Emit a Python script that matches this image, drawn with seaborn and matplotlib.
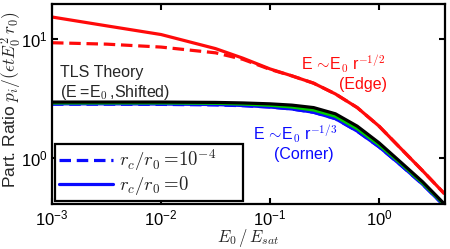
import numpy as np
import pandas as pd
import matplotlib
matplotlib.use("Agg")
import matplotlib.pyplot as plt
import seaborn as sns
from matplotlib.lines import Line2D
from matplotlib.ticker import NullLocator

# ---- data (log10 of E0/Esat) ----
log_e = [-3.0, -2.5, -2.0, -1.5, -1.25, -1.0, -0.8, -0.6, -0.4, -0.2, 0.0, 0.2, 0.4, 0.6]
edge_rc0 = [15.3, 12.9, 10.9, 8.3, 6.9, 5.6, 4.9, 4.25, 3.45, 2.65, 1.85, 1.2, 0.78, 0.50]
edge_rc4 = [9.3, 9.05, 8.55, 7.65, 6.75, 5.55, 4.9, 4.25, 3.45, 2.65, 1.85, 1.2, 0.78, 0.50]
tls = [2.95, 2.95, 2.95, 2.93, 2.90, 2.85, 2.78, 2.65, 2.35, 1.85, 1.34, 0.92, 0.63, 0.41]
mid = [2.90, 2.90, 2.90, 2.88, 2.84, 2.77, 2.68, 2.53, 2.24, 1.76, 1.29, 0.90, 0.615, 0.405]
corner_rc0 = [2.85, 2.85, 2.84, 2.81, 2.76, 2.68, 2.58, 2.42, 2.14, 1.68, 1.24, 0.87, 0.60, 0.395]
corner_rc4 = [2.83, 2.83, 2.82, 2.79, 2.75, 2.68, 2.58, 2.42, 2.14, 1.68, 1.24, 0.87, 0.60, 0.395]

x_ticks = [1e-3, 1e-2, 1e-1, 1e0]
y_ticks = [1e0, 1e1]
legend_labels = [r"$r_c/r_0=\!10^{-4}$", r"$r_c/r_0=\!0$"]

E = 10.0 ** np.array(log_e)
series = {
    "corner_rc0": corner_rc0,
    "corner_rc4": corner_rc4,
    "mid": mid,
    "tls": tls,
    "edge_rc4": edge_rc4,
    "edge_rc0": edge_rc0,
}
df = pd.concat(
    [pd.DataFrame({"E": E, "p": v, "series": k}) for k, v in series.items()],
    ignore_index=True,
)

sns.set_theme(style="ticks")
plt.rcParams["font.family"] = ["Liberation Sans", "DejaVu Sans"]
plt.rcParams["mathtext.fontset"] = "cm"

fig = plt.figure(figsize=(4.5, 2.49), dpi=100)
ax = fig.add_axes([52 / 450, 1 - 204 / 249, 393 / 450, 200 / 249])

RED = "#ff0a0a"
BLUE = "#0a0aff"
GREEN = "#00cc00"
lw = 2.3
styles = {
    "corner_rc0": dict(color=BLUE, dashes=False),
    "corner_rc4": dict(color=BLUE, dashes=True),
    "mid": dict(color=GREEN, dashes=False),
    "tls": dict(color="black", dashes=False),
    "edge_rc4": dict(color=RED, dashes=True),
    "edge_rc0": dict(color=RED, dashes=False),
}
for name in series:
    sub = df[df["series"] == name]
    st = styles[name]
    sns.lineplot(data=sub, x="E", y="p", ax=ax, color=st["color"],
                 linewidth=lw, legend=False, estimator=None, sort=True)
    ln = ax.get_lines()[-1]
    if st["dashes"]:
        ln.set_dashes((3.6, 1.8))
    ln.set_solid_capstyle("butt")

ax.set_xscale("log")
ax.set_yscale("log")
ax.set_xlim(1e-3, 10 ** 0.605)
ax.set_ylim(10 ** -0.387, 10 ** 1.294)
ax.set_xticks(x_ticks)
ax.set_yticks(y_ticks)
ax.xaxis.set_minor_locator(NullLocator())
ax.yaxis.set_minor_locator(NullLocator())
ax.tick_params(which="major", direction="in", length=4.5, width=1.5,
               top=True, right=True, labelsize=12, pad=3, colors="black")
for sp in ax.spines.values():
    sp.set_linewidth(1.6)
    sp.set_color("black")
    sp.set_visible(True)
ax.set_facecolor("white")

ax.set_xlabel(r"$E_0\,/\,E_{sat}$", fontsize=12, labelpad=-1)
ax.set_ylabel(r"Part. Ratio $p_i/(\epsilon t E_0^2\, r_0)$", fontsize=12.5, labelpad=0)
ax.yaxis.set_label_coords(-0.072, 0.52)

tr = ax.transAxes
def px(x, y):
    return ((x - 52) / 393, (204 - y) / 200)

ax.text(*px(60, 72), "TLS Theory", transform=tr, fontsize=11.5, va="center", ha="left")
ax.text(*px(60, 93), r"(E$\;$=E$_\mathsf{0}$$\,$,Shifted)", transform=tr, fontsize=11.5,
        va="center", ha="left")
ax.text(*px(385, 64), r"E$\,\sim\!$E$_\mathsf{0}$ r$^\mathsf{-1/2}$", transform=tr,
        fontsize=11.5, va="center", ha="right", color=RED)
ax.text(*px(387, 84), "(Edge)", transform=tr, fontsize=11.5, va="center", ha="right",
        color=RED)
ax.text(*px(337, 134), r"E$\,\sim\!$E$_\mathsf{0}$ r$^\mathsf{-1/3}$", transform=tr,
        fontsize=11.5, va="center", ha="right", color=BLUE)
ax.text(*px(334, 155), "(Corner)", transform=tr, fontsize=11.5, va="center", ha="right",
        color=BLUE)

handles = [
    Line2D([], [], color=BLUE, lw=lw, dashes=(3.6, 1.8)),
    Line2D([], [], color=BLUE, lw=lw),
]
leg = ax.legend(handles, legend_labels, loc="lower left",
                bbox_to_anchor=(3 / 393, 3 / 200, 188 / 393, 56 / 200), mode="expand",
                fontsize=13.5, frameon=True, fancybox=False, shadow=False,
                framealpha=1, edgecolor="black", handlelength=2.9, handletextpad=0.3,
                borderpad=0.2, labelspacing=0.05, borderaxespad=0)
leg.get_frame().set_linewidth(1.6)

fig.savefig("out.png", dpi=100)
